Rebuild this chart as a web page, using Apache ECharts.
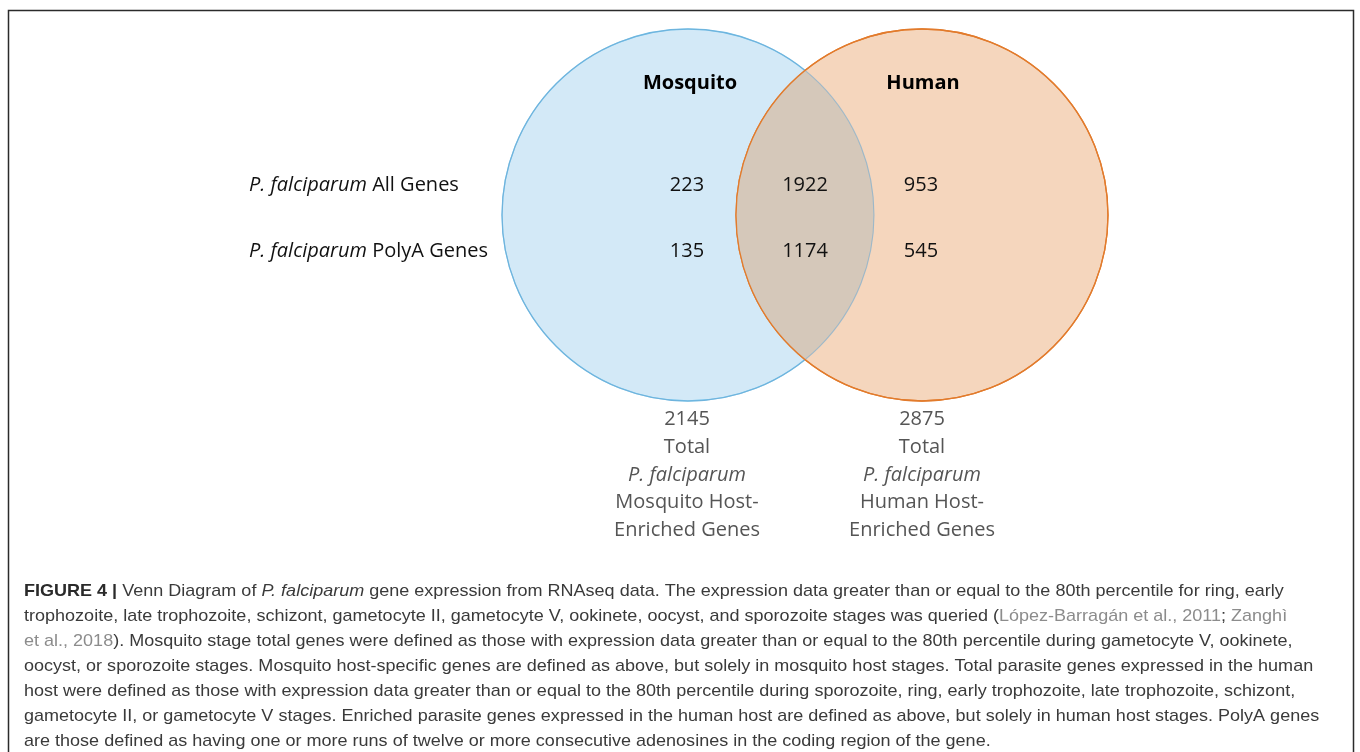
<!DOCTYPE html>
<html><head><meta charset="utf-8">
<script src="https://cdn.jsdelivr.net/npm/echarts@6/dist/echarts.min.js"></script>
<style>html,body{margin:0;padding:0;background:#fff}#c{width:1360px;height:752px}</style>
</head><body><div id="c"></div><script>
// ---- data ----
const setNames = ['Mosquito', 'Human'];
const speciesName = 'P. falciparum';
const rowLabels = ['All Genes', 'PolyA Genes'];
const mosquitoOnly = [223, 135];
const shared = [1922, 1174];
const humanOnly = [953, 545];
const setTotals = [2145, 2875];
const totalHostLabels = ['Mosquito Host-', 'Human Host-'];
const captionLines = [
  '{b|FIGURE 4 |} Venn Diagram of {i|P. falciparum} gene expression from RNAseq data. The expression data greater than or equal to the 80th percentile for ring, early',
  'trophozoite, late trophozoite, schizont, gametocyte II, gametocyte V, ookinete, oocyst, and sporozoite stages was queried ({g|López-Barragán et al., 2011}; {g|Zanghì}',
  '{g|et al., 2018}). Mosquito stage total genes were defined as those with expression data greater than or equal to the 80th percentile during gametocyte V, ookinete,',
  'oocyst, or sporozoite stages. Mosquito host-specific genes are defined as above, but solely in mosquito host stages. Total parasite genes expressed in the human',
  'host were defined as those with expression data greater than or equal to the 80th percentile during sporozoite, ring, early trophozoite, late trophozoite, schizont,',
  'gametocyte II, or gametocyte V stages. Enriched parasite genes expressed in the human host are defined as above, but solely in human host stages. PolyA genes',
  'are those defined as having one or more runs of twelve or more consecutive adenosines in the coding region of the gene.'
];

// ---- layout (data space 1360 x 752) ----
const L = {
  cA: [688, 215], cB: [922, 215], r: 186,
  colX: [687, 805, 921], rowY: [185, 251],
  headX: [690, 923], headY: 83,
  rowLabelX: 249,
  totX: [687, 922], totY: 419, totStep: 27.7,
  capX: 24, capY: 591, capStep: 25
};
const FONT = '"Open Sans", "DejaVu Sans", sans-serif';
const CAPFONT = '"Liberation Sans", Arial, sans-serif';
const CAPSIZE = 17;
const CAPSCALE = 1.06;

const countData = [];
[mosquitoOnly, shared, humanOnly].forEach((arr, j) => {
  arr.forEach((v, i) => countData.push([L.colX[j], L.rowY[i], v]));
});

const chart = echarts.init(document.getElementById('c'), null, {renderer: 'canvas'});

function vennItem(params, api) {
  const pA = api.coord(L.cA), pB = api.coord(L.cB);
  const rp = api.size([L.r, 0])[0];
  const a = (pB[0] - pA[0]) / 2;
  const h = Math.sqrt(rp * rp - a * a);
  const ang = Math.atan2(h, a);
  const pts = [];
  const N = 120;
  for (let k = 0; k <= N; k++) {
    const t = -ang + 2 * ang * k / N;
    pts.push([pA[0] + rp * Math.cos(t), pA[1] + rp * Math.sin(t)]);
  }
  for (let k = 0; k <= N; k++) {
    const t = Math.PI - ang + 2 * ang * k / N;
    pts.push([pB[0] + rp * Math.cos(t), pB[1] + rp * Math.sin(t)]);
  }
  return {
    type: 'group',
    children: [
      {type: 'circle', shape: {cx: pA[0], cy: pA[1], r: rp}, style: {fill: '#D3E9F7', stroke: '#6FC0EA', lineWidth: 1.3}},
      {type: 'circle', shape: {cx: pB[0], cy: pB[1], r: rp}, style: {fill: '#F5D6BD', stroke: '#E27B2C', lineWidth: 1.3}},
      {type: 'polygon', shape: {points: pts}, style: {fill: '#D5C8BA'}},
      {type: 'circle', shape: {cx: pA[0], cy: pA[1], r: rp}, style: {fill: null, stroke: 'rgba(111,170,210,0.6)', lineWidth: 1.1}},
      {type: 'circle', shape: {cx: pB[0], cy: pB[1], r: rp}, style: {fill: null, stroke: '#E27B2C', lineWidth: 1.3}}
    ]
  };
}

const textEls = [];
setNames.forEach((n, i) => textEls.push({x: L.headX[i], y: L.headY, text: n, weight: 'bold', color: '#000', align: 'center'}));
rowLabels.forEach((n, i) => textEls.push({x: L.rowLabelX, y: L.rowY[i], text: '{i|' + speciesName + '} ' + n, color: '#111', align: 'left'}));
setTotals.forEach((v, i) => {
  const lines = [String(v), 'Total', '{i|' + speciesName + '}', totalHostLabels[i], 'Enriched Genes'];
  lines.forEach((s, k) => textEls.push({x: L.totX[i], y: L.totY + k * L.totStep, text: s, color: '#555', align: 'center'}));
});

chart.setOption({
  animation: false,
  grid: {left: 0, top: 0, width: 1360, height: 752},
  xAxis: {type: 'value', min: 0, max: 1360, show: false},
  yAxis: {type: 'value', min: 0, max: 752, inverse: true, show: false},
  series: [
    {type: 'custom', clip: false, data: [0], renderItem: vennItem, silent: true, z: 1},
    {
      type: 'custom', clip: false, data: countData, z: 3, silent: true,
      renderItem(params, api) {
        const p = api.coord([api.value(0), api.value(1)]);
        return {type: 'text', x: p[0], y: p[1] + 0.5, style: {text: String(api.value(2)), fill: '#111', fontSize: 20, fontFamily: FONT, align: 'center', verticalAlign: 'middle'}};
      }
    },
    {
      type: 'custom', clip: false, data: textEls.map((t, i) => [t.x, t.y, i]), z: 3, silent: true,
      renderItem(params, api) {
        const t = textEls[api.value(2)];
        const p = api.coord([api.value(0), api.value(1)]);
        return {type: 'text', x: p[0], y: p[1] + 0.5, style: {
          text: t.text, fill: t.color, fontSize: 20, fontFamily: FONT, fontWeight: t.weight || 'normal',
          align: t.align, verticalAlign: 'middle',
          rich: {i: {fontStyle: 'italic', fontSize: 20, fontFamily: FONT, fill: t.color}}
        }};
      }
    },
    {
      type: 'custom', clip: false, data: captionLines.map((s, i) => [L.capX, L.capY + i * L.capStep, i]), z: 3, silent: true,
      renderItem(params, api) {
        const p = api.coord([api.value(0), api.value(1)]);
        return {type: 'text', x: p[0], y: p[1], scaleX: CAPSCALE, style: {
          text: captionLines[api.value(2)], fill: '#3a3a3a', fontSize: CAPSIZE, fontFamily: CAPFONT,
          align: 'left', verticalAlign: 'middle',
          rich: {
            b: {fontWeight: 'bold', fontSize: CAPSIZE, fontFamily: CAPFONT, fill: '#2a2a2a'},
            i: {fontStyle: 'italic', fontSize: CAPSIZE, fontFamily: CAPFONT, fill: '#3a3a3a'},
            g: {fontSize: CAPSIZE, fontFamily: CAPFONT, fill: '#8c8c8c'}
          }
        }};
      }
    }
  ],
  graphic: [{
    type: 'polyline', silent: true, z: 10,
    shape: {points: [[8.5, 760], [8.5, 10.5], [1353.5, 10.5], [1353.5, 760]]},
    style: {stroke: '#2b2b2b', lineWidth: 1.5, fill: null}
  }]
});
</script></body></html>
